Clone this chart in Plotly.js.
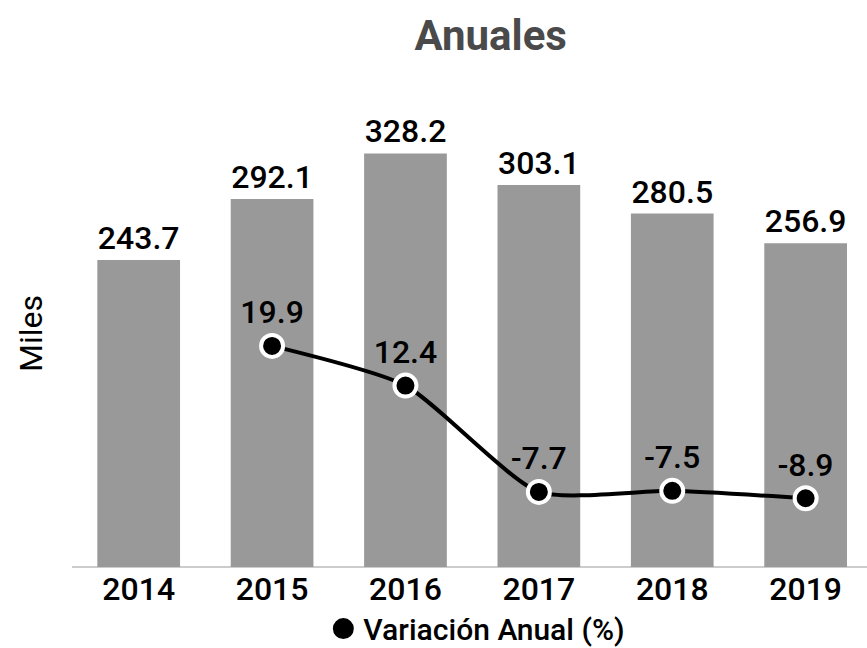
<!DOCTYPE html>
<html>
<head>
<meta charset="utf-8">
<script src="https://cdn.plot.ly/plotly-3.0.1.min.js"></script>
<style>html,body{margin:0;padding:0;background:#fff;}#chart{width:867px;height:648px;}</style>
</head>
<body>
<div id="chart"></div>
<script>
const years = ['2014', '2015', '2016', '2017', '2018', '2019'];
const miles = [243.7, 292.1, 328.2, 303.1, 280.5, 256.9];
const variacion = [null, 19.9, 12.4, -7.7, -7.5, -8.9];
const seriesName = 'Variación Anual (%)';

const fontFam = '"Roboto Medium", Roboto, "Noto Sans", sans-serif';
const fontReg = 'Roboto, "Noto Sans", sans-serif';

const traces = [
  {
    type: 'bar',
    x: years,
    y: miles,
    marker: {color: '#999999'},
    text: miles.map(v => v.toFixed(1)),
    textposition: 'outside',
    textfont: {size: 32, color: '#000', family: fontFam},
    cliponaxis: false,
    showlegend: false,
    hoverinfo: 'x+y'
  },
  {
    type: 'scatter',
    mode: 'lines+markers+text',
    x: years,
    y: variacion,
    yaxis: 'y2',
    name: seriesName,
    showlegend: false,
    line: {color: '#000', width: 4, shape: 'spline', smoothing: 0.6},
    marker: {color: '#000', size: 22, line: {color: '#fff', width: 4}},
    text: variacion.map(v => v === null ? '' : v.toFixed(1)),
    textposition: 'top center',
    textfont: {size: 32, color: '#000', family: fontFam},
    cliponaxis: false,
    connectgaps: false
  },
  {
    type: 'scatter',
    mode: 'markers',
    x: [null],
    y: [null],
    yaxis: 'y2',
    name: seriesName,
    marker: {color: '#000', size: 16, line: {color: '#000', width: 5}},
    hoverinfo: 'skip'
  }
];

const layout = {
  width: 867,
  height: 648,
  paper_bgcolor: '#fff',
  plot_bgcolor: '#fff',
  font: {family: fontReg, color: '#000'},
  margin: {l: 72, r: 0, t: 100, b: 81, autoexpand: false},
  title: {
    text: '<b>Anuales</b>',
    font: {size: 42, color: '#4a4a4a', family: fontReg},
    x: 0.566, xanchor: 'center',
    y: 0.945, yanchor: 'middle'
  },
  bargap: 0.38,
  xaxis: {
    type: 'category',
    range: [-0.5, 5.46],
    showgrid: false,
    showline: false,
    zeroline: false,
    ticks: '',
    tickfont: {size: 32, color: '#000', family: fontFam},
    fixedrange: true
  },
  yaxis: {
    range: [0, 370.6],
    showgrid: false,
    showticklabels: false,
    zeroline: true,
    zerolinecolor: '#cccccc',
    zerolinewidth: 2,
    title: {text: 'Miles', font: {size: 32, color: '#000', family: fontReg}, standoff: 18},
    fixedrange: true
  },
  yaxis2: {
    overlaying: 'y',
    side: 'right',
    range: [-21.9, 66.4],
    showgrid: false,
    showticklabels: false,
    zeroline: false,
    fixedrange: true
  },
  showlegend: true,
  legend: {
    orientation: 'h',
    xref: 'container', yref: 'container',
    x: 0.55, xanchor: 'center',
    y: 0.03, yanchor: 'middle',
    font: {size: 30, color: '#000', family: fontFam},
    bgcolor: 'rgba(0,0,0,0)'
  }
};

Plotly.newPlot('chart', traces, layout, {displayModeBar: false, staticPlot: true});
</script>
</body>
</html>
